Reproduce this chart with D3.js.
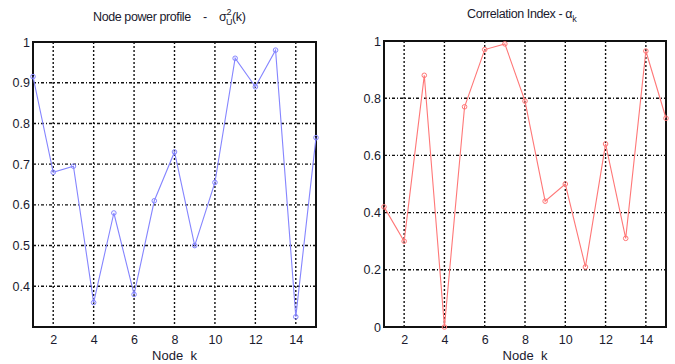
<!DOCTYPE html>
<html>
<head>
<meta charset="utf-8">
<script src="https://cdn.jsdelivr.net/npm/d3@7"></script>
<style>
  body { margin: 0; background: #fff; }
  svg text { font-family: "Liberation Sans", Arial, sans-serif; fill: #1a1a2e; white-space: pre; }
</style>
</head>
<body>
<div id="chart"></div>
<script>
const W = 675, H = 364;

const nodes = [1, 2, 3, 4, 5, 6, 7, 8, 9, 10, 11, 12, 13, 14, 15];
const powerValues = [0.915, 0.68, 0.695, 0.36, 0.58, 0.38, 0.61, 0.73, 0.50, 0.655, 0.96, 0.89, 0.98, 0.325, 0.765];
const corrValues = [0.42, 0.30, 0.88, 0.0, 0.77, 0.97, 0.99, 0.79, 0.44, 0.50, 0.21, 0.64, 0.31, 0.965, 0.73];
const xTicks = [2, 4, 6, 8, 10, 12, 14];
const powerTicks = [0.4, 0.5, 0.6, 0.7, 0.8, 0.9, 1];
const corrTicks = [0, 0.2, 0.4, 0.6, 0.8, 1];

const svg = d3.select("#chart").append("svg")
  .attr("width", W).attr("height", H);

function panel(opt) {
  const x = d3.scaleLinear().domain([1, 15]).range([opt.left, opt.right]);
  const y = d3.scaleLinear().domain(opt.yDomain).range([opt.bottom, opt.top]);
  const g = svg.append("g");

  // grid (matlab style dotted / dash-dot)
  g.selectAll(".gx").data(xTicks).enter().append("line")
    .attr("x1", d => x(d)).attr("x2", d => x(d))
    .attr("y1", opt.top).attr("y2", opt.bottom)
    .attr("stroke", "#111").attr("stroke-width", 1.4)
    .attr("stroke-dasharray", "2,2");
  g.selectAll(".gy").data(opt.yTicks.filter(t => t !== opt.yDomain[0] && t !== opt.yDomain[1]))
    .enter().append("line")
    .attr("x1", opt.left).attr("x2", opt.right)
    .attr("y1", d => y(d)).attr("y2", d => y(d))
    .attr("stroke", "#111").attr("stroke-width", 1.4)
    .attr("stroke-dasharray", "3,2,1,2");

  // axes
  const ax = g.append("g").attr("transform", `translate(0,${opt.bottom})`)
    .call(d3.axisBottom(x).tickValues(xTicks).tickSize(0).tickPadding(8));
  const ay = g.append("g").attr("transform", `translate(${opt.left},0)`)
    .call(d3.axisLeft(y).tickValues(opt.yTicks).tickSize(0).tickPadding(3)
      .tickFormat(d => String(+d.toFixed(1))));
  [ax, ay].forEach(a => {
    a.select(".domain").remove();
    a.selectAll("text").attr("font-size", 12.5).style("font-family", "Liberation Sans, Arial, sans-serif")
      .style("fill", "#1a1a2e").attr("transform", "scale(1)");
  });

  g.append("rect")
    .attr("x", opt.left).attr("y", opt.top)
    .attr("width", opt.right - opt.left).attr("height", opt.bottom - opt.top)
    .attr("fill", "none").attr("stroke", "#111").attr("stroke-width", 2);

  // series
  const line = d3.line().x((d, i) => x(nodes[i])).y(d => y(d));
  g.append("path").datum(opt.values)
    .attr("d", line).attr("fill", "none")
    .attr("stroke", opt.color).attr("stroke-width", 1.1);
  g.selectAll(".pt").data(opt.values).enter().append("circle")
    .attr("cx", (d, i) => x(nodes[i])).attr("cy", d => y(d))
    .attr("r", 2.3).attr("fill", "none")
    .attr("stroke", opt.color).attr("stroke-width", 1);

  g.append("text")
    .attr("x", (opt.left + opt.right) / 2).attr("y", 360)
    .attr("text-anchor", "middle").attr("font-size", 13)
    .text("Node  k");

  return g;
}

panel({ left: 33, right: 316, top: 42, bottom: 327, yDomain: [0.3, 1],
  yTicks: powerTicks, values: powerValues, color: "#8585ff" });
panel({ left: 384, right: 666, top: 41, bottom: 327, yDomain: [0, 1],
  yTicks: corrTicks, values: corrValues, color: "#ff7777" });

// titles
const t1 = svg.append("text").attr("x", 93).attr("y", 21).attr("font-size", 12.5)
  .attr("letter-spacing", -0.4);
t1.append("tspan").text("Node power profile    -    σ");
t1.append("tspan").attr("dy", -6).attr("font-size", 9).text("2");
t1.append("tspan").attr("dx", -5).attr("dy", 10).attr("font-size", 9).text("U");
t1.append("tspan").attr("dy", -4).text("(k)");

const t2 = svg.append("text").attr("x", 467).attr("y", 18).attr("font-size", 12.5)
  .attr("letter-spacing", -0.4);
t2.append("tspan").text("Correlation Index - α");
t2.append("tspan").attr("dy", 4).attr("font-size", 9).text("k");
</script>
</body>
</html>
